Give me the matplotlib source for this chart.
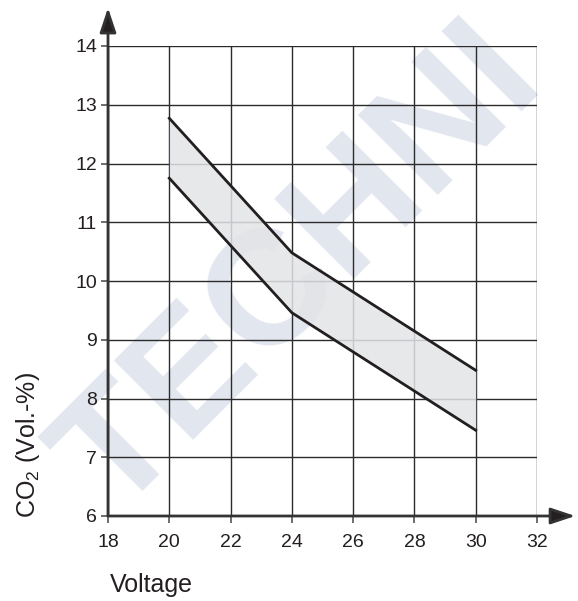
import matplotlib
matplotlib.use("Agg")
import matplotlib.pyplot as plt

plt.rcParams['font.family'] = ['Liberation Sans', 'DejaVu Sans']

# Data
voltage = [20, 24, 30]
co2_upper = [12.77, 10.48, 8.48]
co2_lower = [11.75, 9.46, 7.46]
x_ticks = [18, 20, 22, 24, 26, 28, 30, 32]
y_ticks = [6, 7, 8, 9, 10, 11, 12, 13, 14]

W, H = 578, 601
fig = plt.figure(figsize=(W / 100, H / 100), dpi=100)

# watermark
fig.text(0.52, 0.55, "TECHNI", fontsize=118, fontweight='bold', color='#e2e6ef',
         rotation=45, ha='center', va='center', zorder=-5)

ax = fig.add_axes([108 / W, 1 - 516 / H, (537 - 108) / W, (516 - 46) / H])
ax.patch.set_alpha(0)
ax.set_xlim(18, 32)
ax.set_ylim(6, 14)
ax.set_xticks(x_ticks)
ax.set_yticks(y_ticks)
ax.grid(True, color='#2b2b2b', linewidth=1.0, zorder=1)
ax.set_axisbelow(True)
for s in ['top', 'right', 'left', 'bottom']:
    ax.spines[s].set_visible(False)

ax.tick_params(axis='both', direction='out', length=5, width=1.2, color='#555555',
               labelsize=14, labelcolor='#231f20')
ax.tick_params(axis='x', pad=8)
ax.tick_params(axis='y', pad=3)

ax.fill_between(voltage, co2_lower, co2_upper, color='#e3e4e7', alpha=0.85, zorder=2, linewidth=0)
ax.plot(voltage, co2_upper, color='#231f20', linewidth=2.0, zorder=3, solid_joinstyle='round')
ax.plot(voltage, co2_lower, color='#231f20', linewidth=2.0, zorder=3, solid_joinstyle='round')

# axis arrows
arrow_style = '-|>,head_length=0.75,head_width=0.25'
ax.annotate('', xy=(18, 14.65), xytext=(18, 6), xycoords='data',
            arrowprops=dict(arrowstyle=arrow_style, lw=2.0, shrinkA=0, shrinkB=0,
                            mutation_scale=20, fc='#231f20', ec='#333333'),
            annotation_clip=False, zorder=4)
ax.annotate('', xy=(33.25, 6), xytext=(18, 6), xycoords='data',
            arrowprops=dict(arrowstyle=arrow_style, lw=2.0, shrinkA=0, shrinkB=0,
                            mutation_scale=20, fc='#231f20', ec='#333333'),
            annotation_clip=False, zorder=4)

fig.text(28 / W, 1 - 445 / H, 'CO$_\\mathregular{2}$ (Vol.-%)', rotation=90, fontsize=18,
         ha='center', va='center', color='#231f20')
fig.text(110 / W, 1 - 585 / H, 'Voltage', fontsize=18, ha='left', va='center', color='#231f20')

fig.savefig('out.png', dpi=100)
